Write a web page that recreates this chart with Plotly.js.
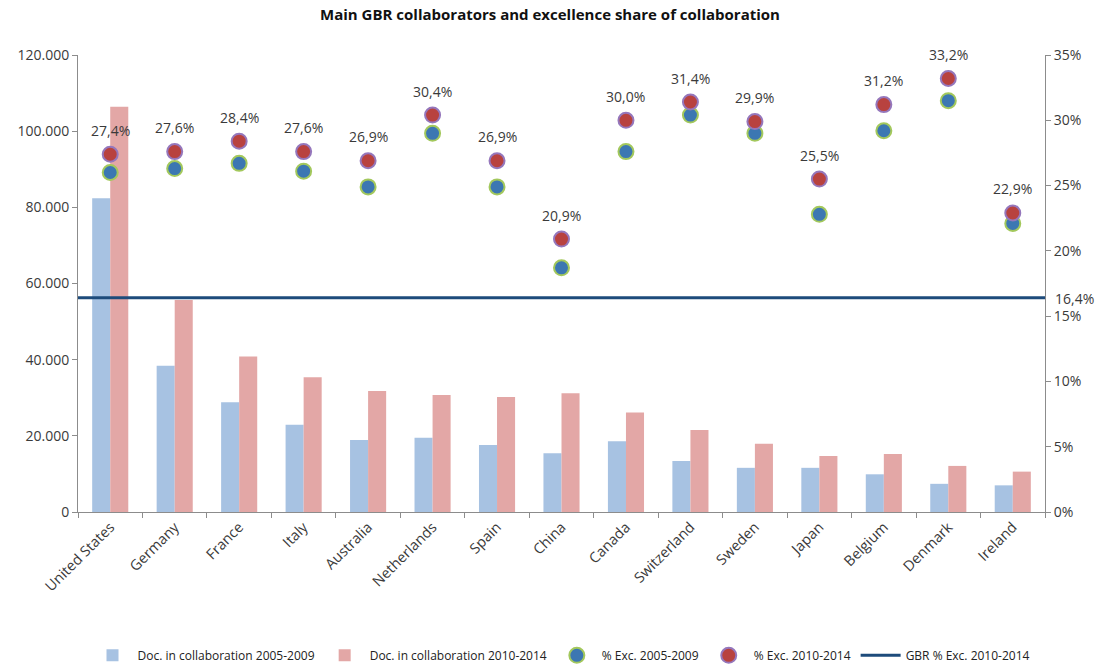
<!DOCTYPE html>
<html>
<head>
<meta charset="utf-8">
<script src="https://cdn.plot.ly/plotly-3.0.1.min.js"></script>
<style>html,body{margin:0;padding:0;background:#fff}#chart{width:1100px;height:666px}</style>
</head>
<body>
<div id="chart"></div>
<script>
const countries = ["United States","Germany","France","Italy","Australia","Netherlands","Spain","China","Canada","Switzerland","Sweden","Japan","Belgium","Denmark","Ireland"];
const docs0509 = [82400,38400,28800,22900,18900,19500,17600,15400,18600,13400,11600,11600,9900,7400,7000];
const docs1014 = [106400,55700,40800,35400,31800,30700,30200,31200,26100,21500,17900,14700,15200,12100,10600];
const exc0509 = [26.0,26.3,26.7,26.1,24.9,29.0,24.9,18.7,27.6,30.4,29.0,22.8,29.2,31.5,22.1];
const exc1014 = [27.4,27.6,28.4,27.6,26.9,30.4,26.9,20.9,30.0,31.4,29.9,25.5,31.2,33.2,22.9];
const gbrExc1014 = 16.4;
const leftTicks = [0,20000,40000,60000,80000,100000,120000];
const rightTicks = [0,5,10,15,20,25,30,35];

const font = "'Open Sans', 'Liberation Sans', sans-serif";
const txt = '#3a3a3a';
const axisCol = '#8c8c8c';
const fmtPct = v => v.toFixed(1).replace('.', ',') + '%';

const traces = [
  {type:'bar', name:'Doc. in collaboration 2005-2009', x:countries, y:docs0509,
   marker:{color:'#A7C2E2'}, yaxis:'y'},
  {type:'bar', name:'Doc. in collaboration 2010-2014', x:countries, y:docs1014,
   marker:{color:'#E3A7A6'}, yaxis:'y'},
  {type:'scatter', mode:'markers', name:'% Exc. 2005-2009', x:countries, y:exc0509, yaxis:'y2',
   marker:{size:15, color:'#3C77B2', line:{color:'#A3C85C', width:2}}},
  {type:'scatter', mode:'markers', name:'% Exc. 2010-2014', x:countries, y:exc1014, yaxis:'y2',
   marker:{size:15, color:'#B8423F', line:{color:'#9577BC', width:2}}},
  {type:'scatter', mode:'lines', name:'GBR % Exc. 2010-2014', x:[null], y:[null], yaxis:'y2',
   line:{color:'#1D4B7B', width:3}}
];

const labelAnnotations = countries.map((c, i) => ({
  xref:'x', x:c, yref:'y2', y:exc1014[i], yanchor:'middle', yshift:24,
  text:fmtPct(exc1014[i]), showarrow:false, font:{family:font, size:14, color:txt}
}));

const layout = {
  width:1100, height:666,
  separators:',.',
  paper_bgcolor:'#fff', plot_bgcolor:'#fff',
  font:{family:font, size:14, color:txt},
  margin:{l:78, r:55, t:55, b:154, autoexpand:false},
  title:{text:'<b>Main GBR collaborators and excellence share of collaboration</b>',
         font:{family:font, size:15, color:'#111'}, x:0.5, xanchor:'center', y:0.978, yanchor:'middle', yref:'container'},
  barmode:'group', bargap:0.44, bargroupgap:0,
  showlegend:true,
  legend:{orientation:'h', x:0.5, xanchor:'center', y:0.016, yanchor:'middle', yref:'container',
          font:{family:font, size:12, color:'#222'}, traceorder:'normal', itemwidth:40},
  xaxis:{type:'category', tickangle:-45, showline:true, linecolor:axisCol, linewidth:1,
         ticks:'outside', tickson:'boundaries', ticklen:5, tickcolor:axisCol, automargin:false,
         tickfont:{family:font, size:14.5, color:txt}, showgrid:false, zeroline:false,
         range:[-0.5, countries.length-0.5]},
  yaxis:{range:[0,120000], tickvals:leftTicks, tickformat:',d', showline:true, linecolor:axisCol,
         ticks:'outside', ticklen:5, tickcolor:axisCol, showgrid:false, zeroline:false, automargin:false,
         tickfont:{family:font, size:14, color:txt}},
  yaxis2:{overlaying:'y', side:'right', range:[0,35], tickvals:rightTicks,
          ticktext:rightTicks.map(v => v + '%'),
          showline:true, linecolor:axisCol, ticks:'outside', ticklen:5, tickcolor:axisCol, automargin:false,
          showgrid:false, zeroline:false, tickfont:{family:font, size:14, color:txt}},
  shapes:[{type:'line', xref:'paper', x0:0, x1:1, yref:'y2', y0:gbrExc1014, y1:gbrExc1014,
           line:{color:'#1D4B7B', width:3}, layer:'above'}],
  annotations:[{xref:'paper', x:1, xanchor:'left', xshift:8, yref:'y2', y:gbrExc1014, yanchor:'middle',
                yshift:-1, text:fmtPct(gbrExc1014), showarrow:false,
                font:{family:font, size:14, color:txt}}].concat(labelAnnotations)
};

Plotly.newPlot('chart', traces, layout, {displayModeBar:false, staticPlot:true});
</script>
</body>
</html>
